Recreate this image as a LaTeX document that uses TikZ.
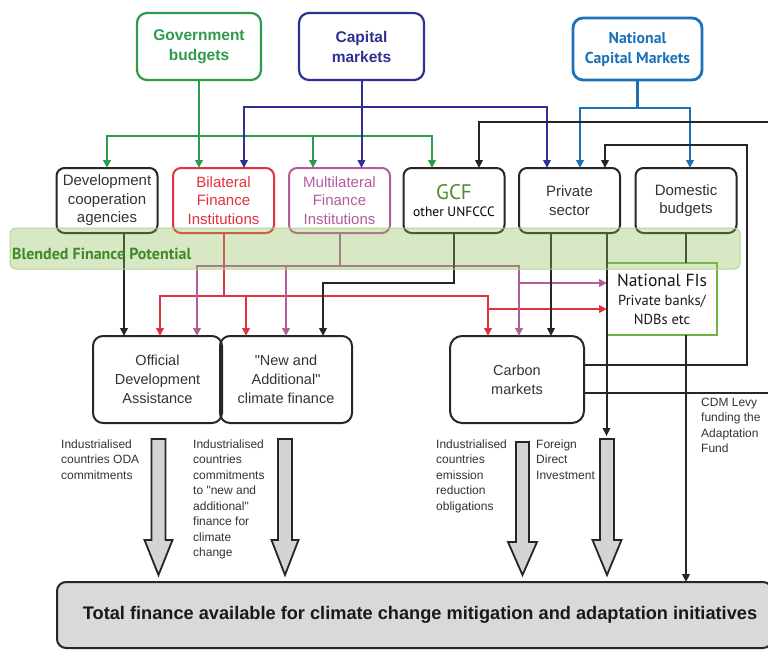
\documentclass[tikz,border=0pt]{standalone}
\usepackage{fontspec}
\setmainfont{Liberation Sans}[Ligatures=TeXOff]
\newfontfamily\humsans{PT Sans}
\usetikzlibrary{arrows.meta,calc}

\definecolor{govgreen}{HTML}{2E9A4A}
\definecolor{capblue}{HTML}{2E3192}
\definecolor{natblue}{HTML}{1B72B8}
\definecolor{bilred}{HTML}{E2313F}
\definecolor{mulpink}{HTML}{B45B9C}
\definecolor{bandgreen}{HTML}{90BD56}
\definecolor{bandedge}{HTML}{B9D497}
\definecolor{bandtext}{HTML}{3E8A2A}
\definecolor{nfigreen}{HTML}{6BB344}
\definecolor{gcfgreen}{HTML}{4A8F28}
\definecolor{inkgray}{HTML}{333333}
\definecolor{arrowfill}{HTML}{D4D4D4}
\definecolor{totalfill}{HTML}{D9D9D9}

% hollow down arrow: centre x, top y, neck y, tip y, half shaft, half head
\newcommand\bigdown[6]{%
  \draw[blockarrow] ({#1-#5},#2) -- ({#1+#5},#2) -- ({#1+#5},#3) -- ({#1+#6},#3)
    -- (#1,#4) -- ({#1-#6},#3) -- ({#1-#5},#3) -- cycle;}

\begin{document}
\begin{tikzpicture}[x=1pt,y=-1pt,
  base/.style={inner sep=0pt, outer sep=0pt, align=center},
  topbox/.style={base, line width=2.2pt, rounded corners=10pt,
    font=\bfseries\fontsize{15.5}{20}\selectfont},
  midbox/.style={base, draw=black!85, line width=2pt, rounded corners=8pt,
    minimum width=101pt, minimum height=65pt, text=inkgray,
    font=\fontsize{15}{18.5}\selectfont},
  lowbox/.style={base, draw=black!85, line width=2pt, rounded corners=10pt,
    minimum height=87pt, text=inkgray, font=\fontsize{14.5}{19}\selectfont},
  note/.style={inner sep=0pt, anchor=north west, align=left, text=inkgray,
    font=\fontsize{12}{15.5}\selectfont},
  link/.style={line width=2pt, draw=black!85},
  tip/.style={-{Triangle[width=7.5pt,length=8pt]}},
  tips/.style={{Triangle[width=7.5pt,length=8pt]}-{Triangle[width=7.5pt,length=8pt]}},
  blockarrow/.style={draw=black!85, fill=arrowfill, line width=1.8pt, line join=miter},
]
\fill[white] (0,0) rectangle (768,650);
\useasboundingbox (0,0) rectangle (768,650);

% bus levels and bend points
\coordinate (cbus) at (0,107);
\coordinate (nbus) at (0,108);
\coordinate (kbus1) at (0,122);
\coordinate (gbus) at (0,136);
\coordinate (kbus2) at (0,145);
\coordinate (pbus) at (0,266);
\coordinate (gbend) at (0,283);
\coordinate (pbranch) at (0,283);
\coordinate (rbus) at (0,296);
\coordinate (rbranch) at (0,309);
\coordinate (fditop) at (0,436);
\coordinate (loopx) at (747,0);
\coordinate (offx) at (776,0);

% sources
\node[topbox, draw=govgreen, text=govgreen, minimum width=124pt, minimum height=67pt]
  (gov) at (199,46.5) {Government\\budgets};
\node[topbox, draw=capblue, text=capblue, minimum width=125pt, minimum height=67pt]
  (cap) at (361.5,46.5) {Capital\\markets};
\node[topbox, draw=natblue, text=natblue, line width=2.8pt, minimum width=129pt,
  minimum height=62pt, font=\humsans\bfseries\fontsize{15.8}{20}\selectfont]
  (ncm) at (637.5,49) {National\\Capital Markets};

% channels
\node[midbox] (devcoop) at (107,200.5) {Development\\cooperation\\agencies};
\node[midbox, draw=bilred, text=bilred] (bilat) at (223.5,200.5) {Bilateral\\Finance\\Institutions};
\node[midbox, draw=mulpink, text=mulpink] (multi) at (339.5,200.5) {Multilateral\\Finance\\Institutions};
\node[midbox, text=black, font=\humsans\fontsize{13.5}{16}\selectfont] (gcf) at (454,200.5)
  {{\color{gcfgreen}\fontsize{21}{22}\selectfont GCF}\\[1pt]other UNFCCC};
\node[midbox] (priv) at (569.5,200.5) {Private\\sector};
\node[midbox] (dom) at (686,200.5) {Domestic\\budgets};

\node[base, draw=nfigreen, line width=2pt, minimum width=110pt, minimum height=72pt,
  text=black!90, font=\humsans\fontsize{14.5}{19}\selectfont]
  (nfi) at (662,299) {{\fontsize{17.5}{20}\selectfont National FIs}\\Private banks/\\NDBs etc};

% instruments
\node[lowbox, minimum width=129pt] (oda) at (157.5,379.5) {Official\\Development\\Assistance};
\node[lowbox, minimum width=132pt] (newadd) at (286,379.5) {"New and\\Additional"\\climate finance};
\node[lowbox, minimum width=134pt, rounded corners=12pt] (carbon) at (517,379.5) {Carbon\\markets};

\node[base, draw=black!85, fill=totalfill, line width=2pt, rounded corners=9pt,
  minimum width=715pt, minimum height=66pt, text=black!90,
  font=\bfseries\fontsize{18.2}{20}\selectfont] (total) at (414.5,615)
  {\hspace*{11pt}Total finance available for climate change mitigation and adaptation initiatives};

% Government budgets
\draw[link, govgreen, tip] (gov.south) -- (gov.south |- bilat.north);
\draw[link, govgreen, tips] (devcoop.north) -- (devcoop.north |- gbus)
  -- ([xshift=-22pt]gcf.north |- gbus) -- ([xshift=-22pt]gcf.north);
\draw[link, govgreen, tip] ([xshift=-26.5pt]multi.north |- gbus) -- ([xshift=-26.5pt]multi.north);

% Capital markets
\draw[link, capblue, tip] (cap.south) -- (cap.south |- multi.north);
\draw[link, capblue, tips] ([xshift=20.5pt]bilat.north) -- ([xshift=20.5pt]bilat.north |- cbus)
  -- ([xshift=-22.5pt]priv.north |- cbus) -- ([xshift=-22.5pt]priv.north);

% National capital markets
\draw[link, natblue, line width=2.5pt] (ncm.south) -- (ncm.south |- nbus);
\draw[link, natblue, line width=2.5pt, tips] ([xshift=10.5pt]priv.north) -- ([xshift=10.5pt]priv.north |- nbus)
  -- ([xshift=4pt]dom.north |- nbus) -- ([xshift=4pt]dom.north);

% bilateral flows
\draw[link, bilred] (bilat.south) -- (bilat.south |- rbus);
\draw[link, bilred, tips] ([xshift=2.5pt]oda.north) -- ([xshift=2.5pt]oda.north |- rbus)
  -- ([xshift=-29pt]carbon.north |- rbus) -- ([xshift=-29pt]carbon.north);
\draw[link, bilred, tip] ([xshift=-40pt]newadd.north |- rbus) -- ([xshift=-40pt]newadd.north);
\draw[link, bilred, tip] ([xshift=-29pt]carbon.north |- rbranch) -- (nfi.west |- rbranch);

% multilateral flows
\draw[link, mulpink] (multi.south) -- (multi.south |- pbus);
\draw[link, mulpink, tips] ([xshift=39.5pt]oda.north) -- ([xshift=39.5pt]oda.north |- pbus)
  -- ([xshift=2pt]carbon.north |- pbus) -- ([xshift=2pt]carbon.north);
\draw[link, mulpink, tip] (newadd.north |- pbus) -- (newadd.north);
\draw[link, mulpink, tip] ([xshift=2pt]carbon.north |- pbranch) -- (nfi.west |- pbranch);

% black channel flows
\draw[link, tip] ([xshift=17pt]devcoop.south) -- ([xshift=17pt]devcoop.south |- oda.north);
\draw[link, tip] (gcf.south) -- (gcf.south |- gbend) -- ([xshift=37pt]newadd.north |- gbend)
  -- ([xshift=37pt]newadd.north);
\draw[link, tip] ([xshift=-18.5pt]priv.south) -- ([xshift=-18.5pt]priv.south |- carbon.north);
\draw[link, tip] ([xshift=37pt]priv.south) -- ([xshift=37pt]priv.south |- fditop);
\draw[link] (dom.south) -- (dom.south |- nfi.north);
\draw[link, tip] (dom.south |- nfi.south) -- (dom.south |- total.north);

% carbon market feedback loops
\coordinate (c1) at ([yshift=14.5pt]carbon.east);
\coordinate (c2) at ([yshift=-13.5pt]carbon.east);
\draw[link, tip] (c1) -- (c1 -| loopx) -- (loopx |- kbus2)
  -- ([xshift=35.5pt]priv.north |- kbus2) -- ([xshift=35.5pt]priv.north);
\draw[link, tip] (c2) -- (c2 -| offx) -- (offx |- kbus1)
  -- ([xshift=25pt]gcf.north |- kbus1) -- ([xshift=25pt]gcf.north);

% blended finance band
\node[base, draw=bandedge, fill=bandgreen, fill opacity=0.35, line width=1pt,
  rounded corners=6pt, minimum width=730pt, minimum height=41pt] (band) at (375,248.5) {};
\node[inner sep=0pt, anchor=west, text=bandtext, font=\humsans\bfseries\fontsize{16}{18}\selectfont]
  (bandlabel) at (12,254) {Blended Finance Potential};

% commitment arrows
\bigdown{158.5}{439}{540}{575}{7}{14}
\bigdown{285}{439}{540}{575}{7}{13.5}
\bigdown{522.5}{442}{542}{575}{6.5}{14.5}
\bigdown{607}{439}{540}{575}{7}{14.5}

\node[note] (n1) at (61,439.5) {Industrialised\\countries ODA\\commitments};
\node[note] (n2) at (193,439.5) {Industrialised\\countries\\commitments\\to "new and\\additional"\\finance for\\climate\\change};
\node[note] (n3) at (436,439.5) {Industrialised\\countries\\emission\\reduction\\obligations};
\node[note] (n4) at (536,439.5) {Foreign\\Direct\\Investment};
\node[note] (n5) at (701,397.5) {CDM Levy\\funding the\\Adaptation\\Fund};
\end{tikzpicture}
\end{document}
